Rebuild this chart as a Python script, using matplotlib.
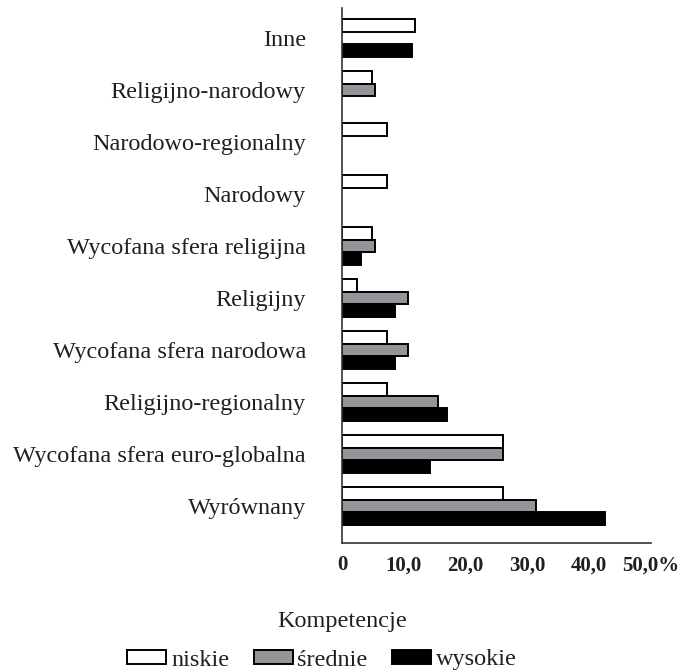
import numpy as np
import matplotlib.pyplot as plt
from matplotlib.patches import Patch

plt.rcParams["font.family"] = ["Liberation Serif", "DejaVu Serif"]

# categories, top to bottom
categories = ['Inne', 'Religijno-narodowy', 'Narodowo-regionalny', 'Narodowy',
              'Wycofana sfera religijna', 'Religijny', 'Wycofana sfera narodowa',
              'Religijno-regionalny', 'Wycofana sfera euro-globalna', 'Wyrównany']
niskie = [11.8, 4.9, 7.3, 7.3, 4.9, 2.4, 7.3, 7.3, 26.1, 26.1]
srednie = [0, 5.4, 0, 0, 5.4, 10.6, 10.6, 15.6, 26.1, 31.4]
wysokie = [11.4, 0, 0, 0, 3.0, 8.5, 8.5, 17.0, 14.3, 42.5]
series_labels = ['niskie', 'średnie', 'wysokie']
xticks = [0, 10, 20, 30, 40, 50]
xticklabels = ['0', '10,0', '20,0', '30,0', '40,0', '50,0%']

txt = '#231f20'
fig = plt.figure(figsize=(6.79, 6.71), dpi=100)
ax = fig.add_axes([0.5037, 0.1908, 0.4551, 0.7972])

ypos = np.arange(len(categories))[::-1]
h = 0.24
styles = [dict(facecolor='white', edgecolor='black'),
          dict(facecolor='#939598', edgecolor='black'),
          dict(facecolor='black', edgecolor='black')]
for vals, off, st in zip([niskie, srednie, wysokie], [h, 0, -h], styles):
    vals = np.array(vals, dtype=float)
    keep = vals > 0
    ax.barh(ypos[keep] + off, vals[keep], height=h, linewidth=1.4, **st)

ax.set_xlim(0, 50)
ax.set_ylim(-0.71, 9.58)
ax.set_xticks(xticks)
ax.set_xticklabels(xticklabels, fontweight='bold', fontsize=15, color=txt)
ax.set_yticks(ypos)
ax.set_yticklabels(categories, fontsize=17.5, color=txt)
ax.tick_params(axis='x', length=0, pad=9)
ax.tick_params(axis='y', length=0, pad=26)
ax.spines['right'].set_visible(False)
ax.spines['top'].set_visible(False)
for s in ['left', 'bottom']:
    ax.spines[s].set_linewidth(1.2)
    ax.spines[s].set_color('#333333')

fig.text(342 / 679, 1 - 622 / 671, 'Kompetencje', ha='center', va='center',
         fontsize=17.5, color=txt)
handles = [Patch(linewidth=1.4, **st) for st in styles]
fig.legend(handles, series_labels, loc='center', ncol=3,
           bbox_to_anchor=(322 / 679, 1 - 660 / 671), frameon=False,
           fontsize=17.5, handlelength=1.6, handleheight=0.5,
           handletextpad=0.2, columnspacing=1.0, labelcolor=txt)

fig.savefig('out.png', dpi=100)
